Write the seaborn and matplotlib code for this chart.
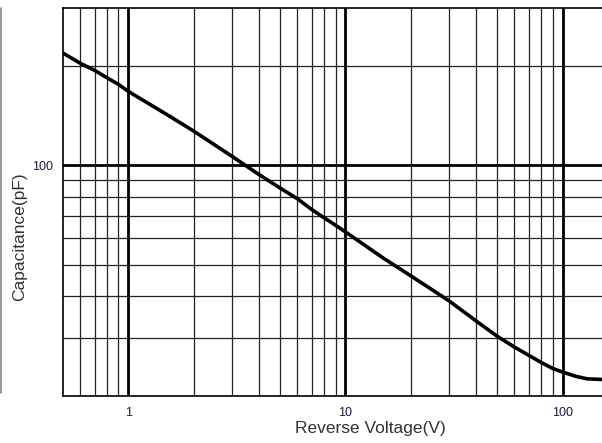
import numpy as np
import pandas as pd
import seaborn as sns
import matplotlib.pyplot as plt
from matplotlib.lines import Line2D
from matplotlib.ticker import FixedLocator, NullFormatter, FixedFormatter

sns.set_theme(style="white")
plt.rcParams['font.family'] = ['Liberation Sans', 'DejaVu Sans']

# curve
voltage = [0.5, 0.6, 0.7, 0.8, 0.9, 1, 1.5, 2, 3, 4, 5, 6, 7, 8, 9, 10,
           15, 20, 30, 40, 50, 60, 70, 80, 90, 100, 115, 130, 152]
capacitance = [219, 204, 194, 184, 176, 167.5, 142.7, 127, 106.5, 93.7, 85.3, 79.2, 73.4,
               69.2, 65.8, 62.8, 52.2, 46.2, 38.8, 33.7, 30.3, 28.1, 26.5, 25.2, 24.2,
               23.6, 22.9, 22.5, 22.4]

x_major = [1, 10, 100]
x_minor = [0.6, 0.7, 0.8, 0.9, 2, 3, 4, 5, 6, 7, 8, 9,
           20, 30, 40, 50, 60, 70, 80, 90]
y_major = [100]
y_minor = [30, 40, 50, 60, 70, 80, 90, 200]

df = pd.DataFrame({'V': voltage, 'C': capacitance})

fig = plt.figure(figsize=(6.02, 4.43), dpi=100)
ax = fig.add_axes([63 / 602, 1 - 395.7 / 443, 1 - 63 / 602, (395.7 - 8) / 443])
ax.set_xscale('log')
ax.set_yscale('log')
ax.set_xlim(0.5, 152)
ax.set_ylim(20, 300)

for v in x_minor:
    ax.axvline(v, color='#222222', lw=0.9, zorder=1)
for v in x_major:
    ax.axvline(v, color='black', lw=2.0, zorder=1)
for v in y_minor:
    ax.axhline(v, color='#222222', lw=0.9, zorder=1)
for v in y_major:
    ax.axhline(v, color='black', lw=2.0, zorder=1)

sns.lineplot(data=df, x='V', y='C', ax=ax, color='black', lw=2.6, zorder=3)

ax.xaxis.set_major_locator(FixedLocator(x_major))
ax.xaxis.set_major_formatter(FixedFormatter(['1', '10', '100']))
ax.xaxis.set_minor_locator(FixedLocator(x_minor))
ax.xaxis.set_minor_formatter(NullFormatter())
ax.yaxis.set_major_locator(FixedLocator(y_major))
ax.yaxis.set_major_formatter(FixedFormatter(['100']))
ax.yaxis.set_minor_locator(FixedLocator(y_minor))
ax.yaxis.set_minor_formatter(NullFormatter())
ax.tick_params(which='both', length=0, labelsize=9, colors='#1a1a40')
ax.tick_params(axis='x', pad=8)
ax.tick_params(axis='y', pad=7)

for s in ['left', 'bottom', 'top']:
    ax.spines[s].set_color('black')
    ax.spines[s].set_linewidth(1.2)
ax.spines['right'].set_visible(False)

ax.set_xlabel('Reverse Voltage(V)', fontsize=12.5, color='#333333')
ax.set_ylabel('Capacitance(pF)', fontsize=12.5, color='#333333')
ax.xaxis.set_label_coords(0.57, -0.064)
ax.yaxis.set_label_coords(-0.066, 0.41)

fig.add_artist(Line2D([0.8 / 602, 0.8 / 602], [1 - 393 / 443, 1 - 8 / 443],
                      color='#888888', lw=1.2))

fig.savefig('out.png', dpi=100)
